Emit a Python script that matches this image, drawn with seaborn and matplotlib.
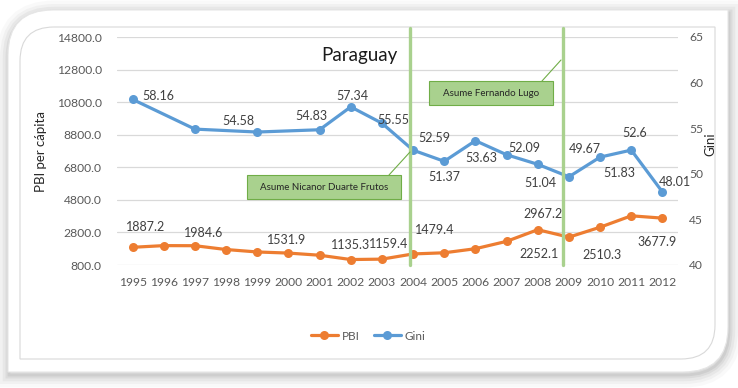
import numpy as np
import pandas as pd
import matplotlib.pyplot as plt
import seaborn as sns
from matplotlib.path import Path
from matplotlib.patches import PathPatch, Rectangle
from matplotlib.lines import Line2D

# --- Data ---
years = list(range(1995, 2013))
pbi = [1887.2, 1990.0, 1984.6, 1750.0, 1600.0, 1531.9, 1400.0, 1135.3, 1159.4,
       1479.4, 1550.0, 1800.0, 2252.1, 2967.2, 2510.3, 3120.0, 3820.0, 3677.9]
gini = [58.16, np.nan, 54.90, np.nan, 54.58, np.nan, 54.83, 57.34, 55.55,
        52.59, 51.37, 53.63, 52.09, 51.04, 49.67, 51.83, 52.60, 48.01]
pbi_labelled = [1995, 1997, 2000, 2002, 2003, 2004, 2007, 2008, 2009, 2012]
gini_labelled = [1995, 1999, 2001, 2002, 2003, 2004, 2005, 2006, 2007, 2008,
                 2009, 2010, 2011, 2012]
events = [2003.9, 2008.8]
event_texts = ['Asume Nicanor Duarte Frutos', 'Asume Fernando Lugo']

# label offsets in pixels (dx right, dy down), styling only
pbi_off = {1995: (13, -20), 1997: (9, -13), 2000: (-2, -13), 2002: (0, -15),
           2003: (7, -15), 2004: (22, -24), 2007: (32, 13), 2008: (5, -16),
           2009: (33, 18), 2012: (-5, 24)}
gini_off = {1995: (26, -3), 1999: (-19, -11), 2001: (-8, -14), 2002: (2, -11),
            2003: (11, -3), 2004: (21, -12), 2005: (0, 16), 2006: (6, 17),
            2007: (18, -7), 2008: (3, 19), 2009: (16, -28), 2010: (19, 16),
            2011: (3, -17), 2012: (12, -10)}

ORANGE = '#ED7D31'
BLUE = '#5B9BD5'
GREEN = '#A9D18E'
GREEN_EDGE = '#70AD47'
TXT = '#404040'
W, H = 738, 388

sns.set_theme(style='white')
plt.rcParams['font.family'] = ['Lato', 'DejaVu Sans']

df = pd.DataFrame({'year': years, 'PBI': pbi, 'Gini': gini})


def fx(x):
    return x / W


def fy(y):
    return 1 - y / H


def frame_path(x0, y0, x1, y1, r):
    # rounded top-left and bottom-right corners (pixel coords, y down)
    verts = [(x0, y0 + r), (x0, y0), (x0 + r, y0), (x1, y0), (x1, y1 - r),
             (x1, y1), (x1 - r, y1), (x0, y1), (x0, y0 + r)]
    codes = [Path.MOVETO, Path.CURVE3, Path.CURVE3, Path.LINETO, Path.LINETO,
             Path.CURVE3, Path.CURVE3, Path.LINETO, Path.CLOSEPOLY]
    return Path(verts, codes)


fig = plt.figure(figsize=(W / 100, H / 100), dpi=100)
fig.patch.set_facecolor('white')

# --- background frame with soft shadow ---
bg = fig.add_axes([0, 0, 1, 1], zorder=-1)
bg.set_xlim(0, W)
bg.set_ylim(H, 0)
bg.axis('off')
outer = frame_path(8, 10, 728, 372, 45)
shadow = frame_path(9, 13, 729, 375, 45)
for lw, a in [(18, 0.025), (13, 0.03), (9, 0.04), (5, 0.05), (2, 0.06)]:
    bg.add_patch(PathPatch(shadow, fc='none', ec='black', lw=lw, alpha=a))
bg.add_patch(PathPatch(outer, fc='white', ec='#e6e6e6', lw=0.8))
bg.add_patch(PathPatch(frame_path(20, 27, 715, 359, 34), fc='white',
                       ec='#d9d9d9', lw=0.8))

# --- main chart ---
ax = fig.add_axes([fx(117), fy(265), fx(678) - fx(117), fy(37) - fy(265)],
                  zorder=1)
ax.set_facecolor('none')
sns.lineplot(data=df, x='year', y='PBI', ax=ax, color=ORANGE, lw=2.3,
             marker='o', markersize=6.5, markeredgewidth=0, label='PBI')
ax.set_xlim(1994.5, 2012.5)
ax.set_ylim(800, 14800)
ax.set_yticks(np.arange(800, 14801, 2000))
ax.set_yticklabels([f'{v:.1f}' for v in np.arange(800, 14801, 2000)])
ax.set_xticks(years)
ax.set_xticklabels([str(y) for y in years])
ax.yaxis.grid(True, color='#D9D9D9', lw=0.9)
ax.xaxis.grid(False)
for s in ax.spines.values():
    s.set_visible(False)
ax.tick_params(axis='both', length=0, labelsize=8.7, labelcolor='#595959')
ax.tick_params(axis='y', pad=11)
ax.tick_params(axis='x', pad=9)
ax.set_xlabel('')
ax.set_ylabel('PBI per cápita', fontsize=9.5, color='#262626')
ax.yaxis.set_label_coords(-0.125, 0.5)

ax2 = ax.twinx()
sns.lineplot(data=df, x='year', y='Gini', ax=ax2, color=BLUE, lw=2.3,
             marker='o', markersize=6.5, markeredgewidth=0, label='Gini')
ax2.set_ylim(40, 65)
ax2.set_yticks(range(40, 66, 5))
ax2.grid(False)
for s in ax2.spines.values():
    s.set_visible(False)
ax2.tick_params(axis='y', length=0, labelsize=8.7, labelcolor='#595959', pad=8)
ax2.set_ylabel('Gini', fontsize=9.5, color='#262626')
ax2.yaxis.set_label_coords(1.047, 0.53)

# data labels
for yr in pbi_labelled:
    v = pbi[years.index(yr)]
    dx, dy = pbi_off[yr]
    ax.annotate(f'{v:.1f}', (yr, v), xytext=(dx, -dy), textcoords='offset pixels',
                ha='center', va='center', fontsize=9, color=TXT)
for yr in gini_labelled:
    v = gini[years.index(yr)]
    dx, dy = gini_off[yr]
    ax2.annotate(f'{v:g}', (yr, v), xytext=(dx, -dy), textcoords='offset pixels',
                 ha='center', va='center', fontsize=9, color=TXT)

# event lines
for x in events:
    ax2.axvline(x, ymin=0, ymax=1.04, color=GREEN, lw=2.4, clip_on=False, zorder=4)

# callout boxes: (box in pixels, connector start, connector end)
boxes = [((246.7, 175, 401, 199), (389, 175), (410, 152)),
         ((429, 81, 553, 105), (542, 81), (561, 60))]
for text, ((x0, y0, x1, y1), p0, p1) in zip(event_texts, boxes):
    fig.add_artist(Rectangle((fx(x0), fy(y1)), fx(x1) - fx(x0), fy(y0) - fy(y1),
                             transform=fig.transFigure, fc=GREEN,
                             ec=GREEN_EDGE, lw=0.8, zorder=5))
    fig.text(fx((x0 + x1) / 2), fy((y0 + y1) / 2), text, ha='center',
             va='center', fontsize=7, color='#262626', zorder=6)
    fig.add_artist(Line2D([fx(p0[0]), fx(p1[0])], [fy(p0[1]), fy(p1[1])],
                          transform=fig.transFigure, color=GREEN_EDGE, lw=0.8,
                          zorder=5))

fig.text(fx(359), fy(55), 'Paraguay', ha='center', va='center', fontsize=13.5,
         color='#1a1a1a', zorder=6)

# legend
h1, l1 = ax.get_legend_handles_labels()
h2, l2 = ax2.get_legend_handles_labels()
for a in (ax, ax2):
    if a.get_legend() is not None:
        a.get_legend().remove()
fig.legend(h1 + h2, l1 + l2, loc='center', bbox_to_anchor=(fx(368), fy(336)),
           ncol=2, frameon=False, fontsize=8.5, handlelength=2.3,
           handletextpad=0.3, columnspacing=1.2, labelcolor='#595959')

fig.savefig('out.png', dpi=100)
